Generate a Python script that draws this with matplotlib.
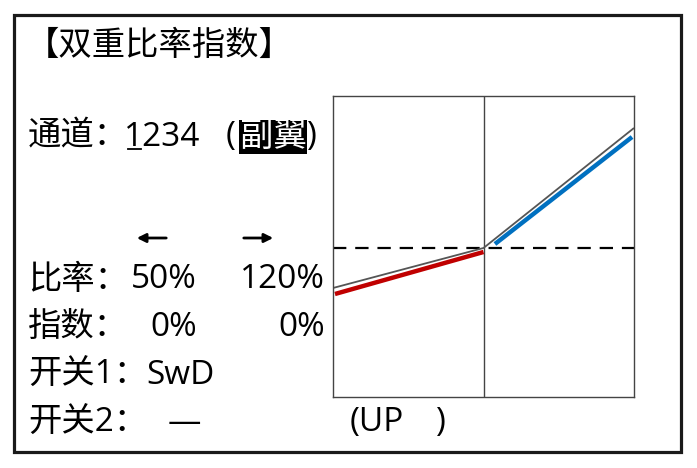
import matplotlib
matplotlib.use("Agg")
import matplotlib.pyplot as plt
from matplotlib.patches import Rectangle

FAM = ['Open Sans', 'Noto Sans CJK SC', 'DejaVu Sans']
plt.rcParams['font.family'] = FAM

# ---- data ----
title = "【双重比率指数】"
channel_label = "通道："
channel_digits = "1234"
channel_func = "副翼"
row_labels = ["比率：", "指数：", "开关1：", "开关2："]
left_values = ["50%", "0%", "SwD", "—"]
right_values = ["120%", "0%", "", ""]
bottom_open = "(UP"
bottom_close = ")"

# curve (x in -100..100 stick travel, y output)
ref_x = [-100, 0, 100]
ref_y = [-40, 0, 120]
low_x = [-98.7, 0]
low_y = [-46, -4]
high_x = [7.6, 98.7]
high_y = [4, 111]

W, H = 697, 468
fig = plt.figure(figsize=(W / 100, H / 100), dpi=100)
bg = fig.add_axes([0, 0, 1, 1])
bg.set_xlim(0, W)
bg.set_ylim(H, 0)
bg.axis('off')

# outer frame
bg.add_patch(Rectangle((14, 15), 667, 437, fill=False, ec='#1a1a1a', lw=2.3))

fs = 24
bg.text(26, 46, title, fontsize=fs, ha='left', va='center')
bg.text(28, 137, channel_label, fontsize=fs, ha='left', va='center')
bg.text(124, 137, channel_digits, fontsize=fs, ha='left', va='center')
bg.plot([128, 141], [149, 149], color='black', lw=1.3)
bg.text(226, 137, "(", fontsize=fs, ha='left', va='center')
bg.text(240, 137, channel_func, fontsize=fs, ha='left', va='center', color='white',
        bbox=dict(boxstyle='square,pad=0.02', fc='black', ec='none'))
bg.text(306, 137, ")", fontsize=fs, ha='left', va='center')

# arrows
bg.annotate('', xy=(134, 238), xytext=(169, 238),
            arrowprops=dict(arrowstyle='-|>', color='black', lw=2, mutation_scale=13))
bg.annotate('', xy=(276, 238), xytext=(241, 238),
            arrowprops=dict(arrowstyle='-|>', color='black', lw=2, mutation_scale=13))

row_y = [280, 327, 375, 423]
for lab, lv, rv, y in zip(row_labels, left_values, right_values, row_y):
    bg.text(28, y, lab, fontsize=fs, ha='left', va='center')
    if lv == "SwD":
        bg.text(146, y, lv, fontsize=fs, ha='left', va='center')
    elif lv == "—":
        bg.text(184, y, lv, fontsize=fs, ha='center', va='center')
    else:
        bg.text(197, y, lv, fontsize=fs, ha='right', va='center')
    if rv:
        bg.text(325, y, rv, fontsize=fs, ha='right', va='center')

bg.text(350, 423, bottom_open, fontsize=fs, ha='left', va='center')
bg.text(435, 423, bottom_close, fontsize=fs, ha='left', va='center')

# curve panel
ax = fig.add_axes([333 / W, 1 - 397 / H, 301 / W, 301 / H])
ax.set_xlim(-100, 100)
ax.set_ylim(-149, 152)
ax.set_xticks([])
ax.set_yticks([])
for s in ax.spines.values():
    s.set_color('#444444')
    s.set_linewidth(1.0)
ax.axvline(0, color='#444444', lw=1.0)
ax.axhline(0, color='black', lw=1.6, dashes=(6, 4))
ax.plot(ref_x, ref_y, color='#555555', lw=1.3, solid_capstyle='butt')
ax.plot(low_x, low_y, color='#c00000', lw=3.2, solid_capstyle='butt')
ax.plot(high_x, high_y, color='#0070c0', lw=3.2, solid_capstyle='butt')

fig.savefig('out.png', dpi=100)
